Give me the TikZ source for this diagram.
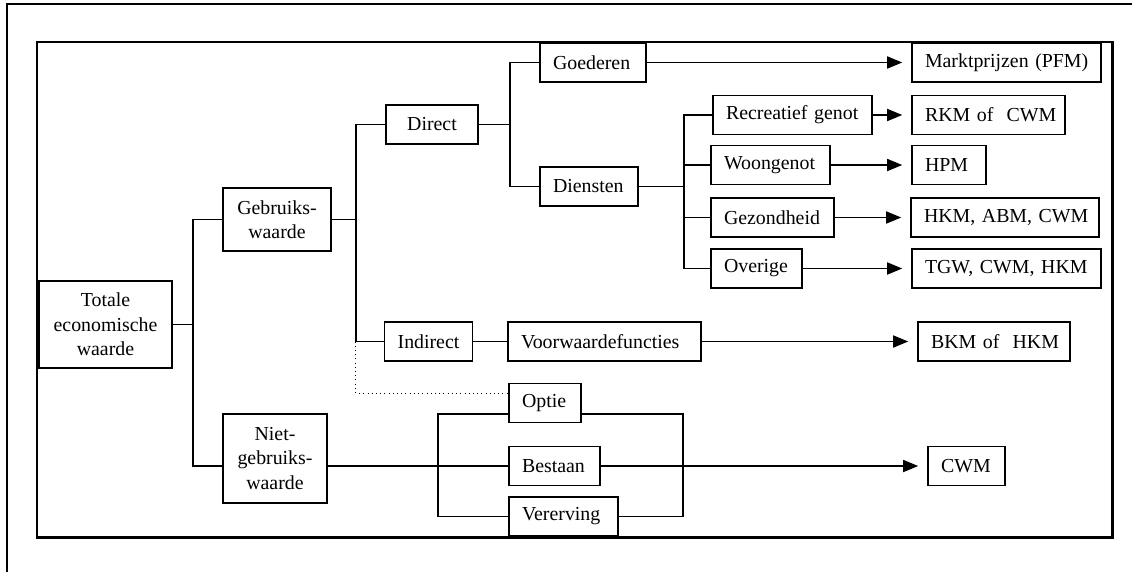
\documentclass[tikz,border=0pt]{standalone}
\usepackage{fontspec}
\setmainfont{Liberation Serif}
\usetikzlibrary{arrows.meta, positioning}

\begin{document}
\begin{tikzpicture}[
    x=0.02cm, y=-0.02cm,
    box/.style={rectangle, draw, line width=0.9pt, inner xsep=0.26cm, inner ysep=0pt,
      minimum height=0.78cm, font=\fontsize{11.3}{13.9}\selectfont},
    tbox/.style={box, text width=#1, align=left},
    cbox/.style={box, align=center},
    link/.style={line width=0.9pt},
    arrow/.style={link, -{Triangle[length=0.3cm, width=0.24cm]}, shorten >=0.18cm}
  ]

  % Frames
  \useasboundingbox (0,0) rectangle (1132,572);
  \draw[line width=0.6pt] (7,572) -- (7,4) -- (1132,4);
  \draw[line width=1.7pt] (37,42) rectangle (1112,537);

  % Nodes
  \node[cbox, minimum width=2.66cm, minimum height=1.74cm] (totaal) at (105.5,324.5) {Totale\\economische\\waarde};
  \node[cbox, minimum width=2.16cm, minimum height=1.26cm] (gebruik) at (277,219.5) {Gebruiks-\\waarde};
  \node[cbox, minimum width=2.08cm, minimum height=1.78cm] (nietgebruik) at (275,458.5) {Niet-\\gebruiks-\\waarde};
  \node[cbox, minimum width=1.84cm] (direct) at (432,124.5) {Direct};
  \node[cbox, minimum width=1.66cm] (indirect) at (428.5,341.5) {Indirect};
  \node[tbox=1.60cm] (goederen) at (593,62.5) {Goederen};
  \node[tbox=1.44cm] (diensten) at (589,186.5) {Diensten};
  \node[tbox=3.34cm] (voorwaarde) at (604.5,341.5) {Voorwaardefuncties};
  \node[tbox=2.66cm] (recreatie) at (792.5,115) {Recreatief~genot};
  \node[tbox=1.86cm] (wonen) at (770.5,165) {Woongenot};
  \node[tbox=1.94cm] (gezondheid) at (772.5,217.5) {Gezondheid};
  \node[tbox=1.30cm] (overige) at (756.5,268.5) {Overige};
  \node[tbox=0.92cm] (optie) at (545,403) {Optie};
  \node[tbox=1.30cm] (bestaan) at (554.5,466) {Bestaan};
  \node[tbox=1.66cm] (vererving) at (563.5,516.5) {Vererving};

  % Methods
  \node[tbox=3.26cm] (pfm) at (1006.5,62.5) {Marktprijzen~(PFM)};
  \node[tbox=2.54cm] (rkm) at (988.5,115) {RKM~of~~CWM};
  \node[tbox=0.96cm] (hpm) at (949,165) {HPM};
  \node[tbox=3.24cm] (hkm) at (1005,217.5) {HKM,~ABM,~CWM};
  \node[tbox=3.26cm] (tgw) at (1006.5,268.5) {TGW,~CWM,~HKM};
  \node[tbox=2.52cm] (bkm) at (994,341.5) {BKM~of~~HKM};
  \node[tbox=1.02cm] (cwm) at (966.5,466) {CWM};

  % Tree lines
  \draw[link] (totaal.east) -- ++(20,0) coordinate (t1);
  \coordinate (n1) at ([yshift=-0.15cm]nietgebruik.west);
  \draw[link] (gebruik.west) -| (t1) |- (n1);
  \draw[link] (gebruik.east) -- ++(24,0) coordinate (t2);
  \draw[link] (direct.west) -| (t2) |- (indirect.west);
  \draw[dotted] (t2 |- indirect.west) |- ([yshift=0.2cm]optie.west);
  \draw[link] (direct.east) -- ++(31,0) coordinate (t3);
  \draw[link] (goederen.west) -| (t3) |- (diensten.west);
  \draw[link] (diensten.east) -- ++(45,0) coordinate (t4);
  \draw[link] (recreatie.west) -| (t4) |- (overige.west);
  \draw[link] (wonen.west) -- (wonen.west -| t4);
  \draw[link] (gezondheid.west) -- (gezondheid.west -| t4);
  \draw[link] (indirect.east) -- (voorwaarde.west);

  % Niet-gebruik bracket
  \coordinate (bl) at (438,466);
  \coordinate (br) at (683,466);
  \draw[link] ([yshift=-0.15cm]nietgebruik.east) -- (bestaan.west);
  \draw[link] ([yshift=-0.22cm]optie.west) -| (bl) |- (vererving.west);
  \draw[link] ([yshift=-0.22cm]optie.east) -| (br) |- (vererving.east);

  % Arrows
  \draw[arrow] (goederen.east) -- (pfm.west);
  \draw[arrow] (recreatie.east) -- (rkm.west);
  \draw[arrow] (wonen.east) -- (hpm.west);
  \draw[arrow] (gezondheid.east) -- (hkm.west);
  \draw[arrow] (overige.east) -- (tgw.west);
  \draw[arrow] (voorwaarde.east) -- (bkm.west);
  \draw[arrow] (bestaan.east) -- (cwm.west);

\end{tikzpicture}
\end{document}
